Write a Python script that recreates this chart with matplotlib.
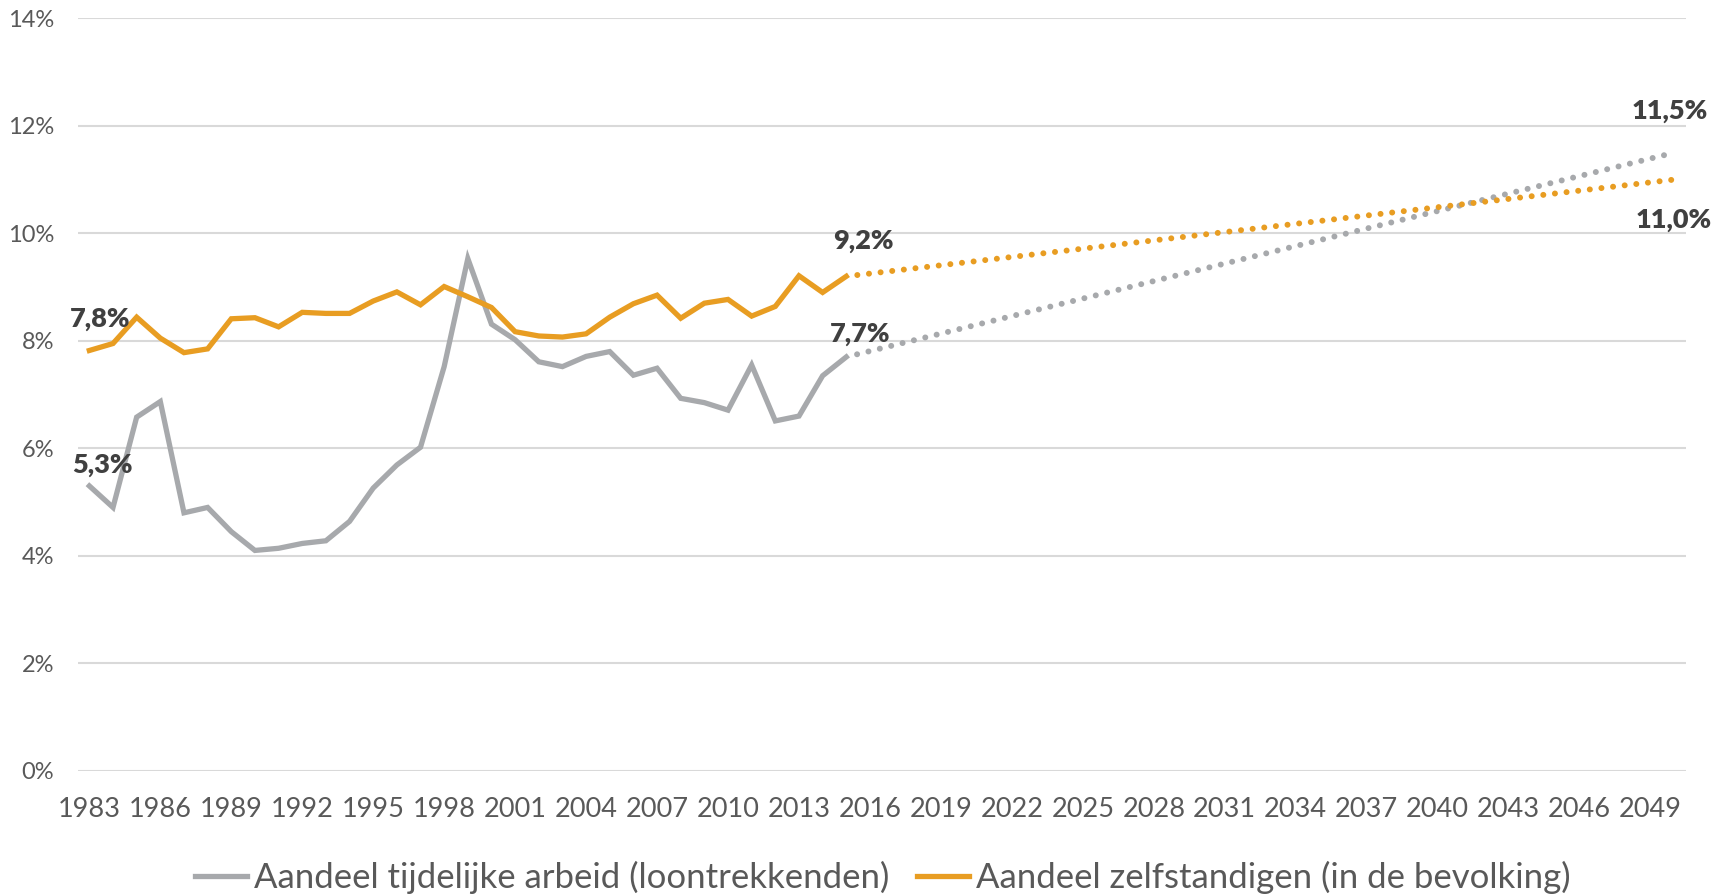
import matplotlib
matplotlib.use("Agg")
import matplotlib.pyplot as plt

plt.rcParams['font.family'] = ['Lato', 'DejaVu Sans']

jaren = list(range(1983, 2016))
tijdelijk = [5.30, 4.90, 6.58, 6.87, 4.80, 4.90, 4.45, 4.10, 4.14, 4.23, 4.28,
             4.64, 5.26, 5.69, 6.02, 7.52, 9.53, 8.31, 8.02, 7.61, 7.52, 7.71,
             7.80, 7.36, 7.49, 6.93, 6.85, 6.71, 7.55, 6.51, 6.60, 7.35, 7.70]
zelfstandig = [7.82, 7.95, 8.44, 8.05, 7.78, 7.85, 8.41, 8.43, 8.26, 8.53, 8.51,
               8.51, 8.74, 8.91, 8.67, 9.01, 8.82, 8.62, 8.17, 8.09, 8.07, 8.13,
               8.44, 8.69, 8.85, 8.42, 8.70, 8.77, 8.46, 8.64, 9.21, 8.90, 9.20]

# projectie 2015 -> 2050
proj_jaren = [2015, 2050]
proj_tijdelijk = [7.7, 11.5]
proj_zelfstandig = [9.2, 11.0]

grijs = '#A7A9AC'
oranje = '#E89D22'
tekst = '#595959'
label_kleur = '#404040'

fig = plt.figure(figsize=(17.19, 8.94), dpi=100)
ax = fig.add_axes([0.0451, 0.1378, 0.9357, 0.8417])

ax.plot(jaren, tijdelijk, color=grijs, lw=3.8, solid_joinstyle='miter',
        label='Aandeel tijdelijke arbeid (loontrekkenden)')
ax.plot(jaren, zelfstandig, color=oranje, lw=3.8, solid_joinstyle='miter',
        label='Aandeel zelfstandigen (in de bevolking)')
ax.plot(proj_jaren, proj_tijdelijk, color=grijs, lw=4.3,
        linestyle=(0.1, (0.01, 1.95)), dash_capstyle='round')
ax.plot(proj_jaren, proj_zelfstandig, color=oranje, lw=4.3,
        linestyle=(0.1, (0.01, 1.95)), dash_capstyle='round')

ax.set_xlim(1982.5, 2050.5)
ax.set_ylim(0, 14)
ax.set_xticks(range(1983, 2050, 3))
ax.set_yticks(range(0, 15, 2))
ax.set_yticklabels([f'{v}%' for v in range(0, 15, 2)])
ax.tick_params(axis='both', length=0, labelcolor=tekst)
ax.tick_params(axis='y', pad=17, labelsize=17)
ax.tick_params(axis='x', pad=19, labelsize=19.5)
ax.grid(axis='y', color='#D9D9D9', lw=1.5)
ax.set_axisbelow(True)
for s in ax.spines.values():
    s.set_visible(False)

def label(x, y, txt, dx, dy, va='baseline'):
    ax.annotate(txt, (x, y), xytext=(dx, dy), textcoords='offset pixels',
                ha='center', va=va, fontsize=19.5, fontweight='heavy', color=label_kleur)

label(jaren[0], zelfstandig[0], '7,8%', 11, 24)
label(jaren[0], tijdelijk[0], '5,3%', 13, 13)
label(jaren[-1], zelfstandig[-1], '9,2%', 17, 28)
label(jaren[-1], tijdelijk[-1], '7,7%', 14, 15)
label(proj_jaren[1], proj_tijdelijk[1], '11,5%', -4, 34)
label(proj_jaren[1], proj_zelfstandig[1], '11,0%', 0, -28, va='top')

# legenda gecentreerd onder het plotgebied
leg = fig.legend(loc='lower center', bbox_to_anchor=(0.5137, -0.035), ncol=2,
                 frameon=False, fontsize=25, handlelength=1.5, handletextpad=0.2,
                 columnspacing=0.8)
for t in leg.get_texts():
    t.set_color(tekst)

fig.savefig('out.png', dpi=100)
